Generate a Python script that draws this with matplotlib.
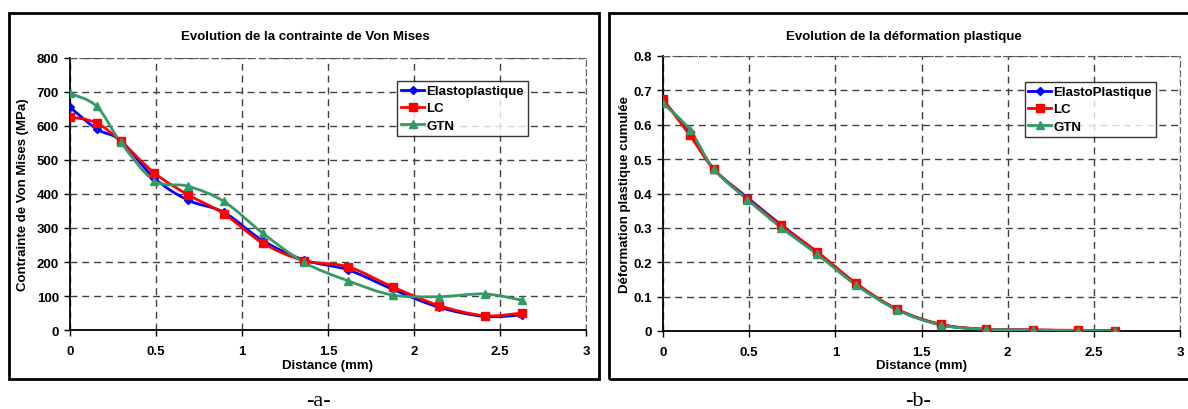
import matplotlib.pyplot as plt
from matplotlib.path import Path
from matplotlib.patches import PathPatch, Rectangle
from matplotlib.lines import Line2D

plt.rcParams['font.family'] = ['Liberation Sans', 'DejaVu Sans']

# distances (mm)
distance = [0, 0.155, 0.295, 0.49, 0.685, 0.895, 1.12, 1.36, 1.615, 1.875, 2.145, 2.41, 2.625]

# contrainte de Von Mises (MPa)
vm_elasto = [655, 591, 557, 447, 382, 346, 263, 206, 177, 120, 67, 40, 44]
vm_lc = [627, 609, 555, 462, 398, 342, 256, 204, 186, 127, 72, 42, 50]
vm_gtn = [696, 658, 552, 439, 423, 378, 285, 199, 145, 103, 98, 106, 88]

# deformation plastique cumulee
ep_elasto = [0.670, 0.578, 0.471, 0.388, 0.309, 0.228, 0.137, 0.062, 0.018, 0.005, 0.003, 0.001, 0.001]
ep_lc = [0.674, 0.570, 0.471, 0.385, 0.307, 0.230, 0.139, 0.063, 0.019, 0.005, 0.003, 0.002, 0.001]
ep_gtn = [0.662, 0.586, 0.471, 0.382, 0.301, 0.223, 0.134, 0.061, 0.017, 0.005, 0.002, 0.001, 0.000]

labels_a = ['Elastoplastique', 'LC', 'GTN']
labels_b = ['ElastoPlastique', 'LC', 'GTN']
colors = ['#0000FF', '#FF0000', '#339966']
markers = ['D', 's', '^']
msizes = [4, 5.5, 5.5]

FS = 9.5
W, H = 1188, 410


# courbe lissee comme dans Excel (Bezier a partir des points)
def smooth_path(x, y):
    n = len(x)
    verts = [(x[0], y[0])]
    codes = [Path.MOVETO]
    for i in range(n - 1):
        x0, y0 = (x[i - 1], y[i - 1]) if i > 0 else (x[i], y[i])
        x3, y3 = (x[i + 2], y[i + 2]) if i + 2 < n else (x[i + 1], y[i + 1])
        c1 = (x[i] + (x[i + 1] - x0) / 6, y[i] + (y[i + 1] - y0) / 6)
        c2 = (x[i + 1] - (x3 - x[i]) / 6, y[i + 1] - (y3 - y[i]) / 6)
        verts += [c1, c2, (x[i + 1], y[i + 1])]
        codes += [Path.CURVE4] * 3
    return Path(verts, codes)


def draw_panel(ax, series, labels, ymax, ystep, ylabel, ylab_x, xlab_y, legend_anchor):
    for s, c, m, ms in zip(series, colors, markers, msizes):
        ax.add_patch(PathPatch(smooth_path(distance, s), fill=False, ec=c, lw=2, zorder=3))
        ax.plot(distance, s, ls='none', marker=m, ms=ms, color=c, zorder=4)
    ax.set_xlim(0, 3)
    ax.set_ylim(0, ymax)
    ax.set_xticks([0, 0.5, 1, 1.5, 2, 2.5, 3])
    ax.set_xticklabels(['0', '0.5', '1', '1.5', '2', '2.5', '3'])
    yt = [i * ystep for i in range(9)]
    ax.set_yticks(yt)
    if ystep < 1:
        ax.set_yticklabels(['0'] + ['%.1f' % v for v in yt[1:]])
    ax.grid(True, ls=(0, (5, 3.5)), color='#404040', lw=1)
    ax.set_axisbelow(True)
    for sp in ['top', 'right']:
        ax.spines[sp].set_color('#606060')
        ax.spines[sp].set_linestyle((0, (5, 3.5)))
    for sp in ['left', 'bottom']:
        ax.spines[sp].set_linewidth(1.3)
    ax.tick_params(direction='out', length=4, width=1, labelsize=FS)
    ax.tick_params(axis='x', pad=7)
    ax.tick_params(axis='y', pad=4)
    for t in ax.get_xticklabels() + ax.get_yticklabels():
        t.set_fontweight('bold')
    ax.set_xlabel('Distance (mm)', fontsize=FS, fontweight='bold')
    ax.xaxis.set_label_coords(0.5, xlab_y)
    ax.set_ylabel(ylabel, fontsize=FS, fontweight='bold')
    ax.yaxis.set_label_coords(ylab_x, 0.5)
    handles = [Line2D([], [], color=c, marker=m, ms=ms, lw=2) for c, m, ms in zip(colors, markers, msizes)]
    leg = ax.legend(handles, labels, loc='upper right', bbox_to_anchor=legend_anchor,
                    bbox_transform=fig.transFigure, fontsize=FS, frameon=True, fancybox=False,
                    edgecolor='black', handlelength=1.7, handletextpad=0.2, borderpad=0.3,
                    labelspacing=0.38, borderaxespad=0)
    leg.get_frame().set_linewidth(1)
    for t in leg.get_texts():
        t.set_fontweight('bold')


fig = plt.figure(figsize=(W / 100, H / 100), dpi=100)

# cadres autour des deux graphiques
fig.patches.append(Rectangle((8.5 / W, 1 - 380 / H), 590.5 / W, 366 / H,
                             transform=fig.transFigure, fill=False, ec='black', lw=2))
fig.patches.append(Rectangle((609 / W, 1 - 380 / H), 585 / W, 366 / H,
                             transform=fig.transFigure, fill=False, ec='black', lw=2))

ax1 = fig.add_axes([70 / W, 1 - 331 / H, 516 / W, 272 / H])
draw_panel(ax1, [vm_elasto, vm_lc, vm_gtn], labels_a, 800, 100,
           'Contrainte de Von Mises (MPa)', -0.079, -0.105,
           (528 / W, 1 - 82 / H))

ax2 = fig.add_axes([663 / W, 1 - 332 / H, 517 / W, 275 / H])
draw_panel(ax2, [ep_elasto, ep_lc, ep_gtn], labels_b, 0.8, 0.1,
           'Déformation plastique cumulée', -0.062, -0.1,
           (1156 / W, 1 - 83 / H))

# titres centres sur les cadres
fig.text(305 / W, 1 - 37 / H, 'Evolution de la contrainte de Von Mises', ha='center', va='center',
         fontsize=FS, fontweight='bold')
fig.text(904 / W, 1 - 37 / H, 'Evolution de la déformation plastique', ha='center', va='center',
         fontsize=FS, fontweight='bold')

fig.text(318 / W, 1 - 402 / H, '-a-', ha='center', va='center', fontsize=16,
         family=['Liberation Serif', 'DejaVu Serif'])
fig.text(918 / W, 1 - 402 / H, '-b-', ha='center', va='center', fontsize=16,
         family=['Liberation Serif', 'DejaVu Serif'])

fig.savefig('out.png', dpi=100)
